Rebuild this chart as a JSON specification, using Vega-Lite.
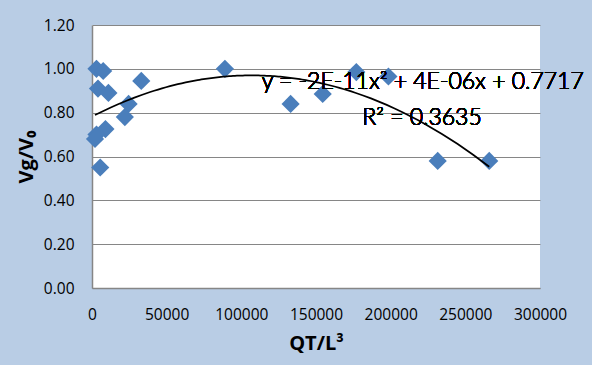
{
  "$schema": "https://vega.github.io/schema/vega-lite/v6.json",
  "width": 448,
  "height": 263,
  "autosize": "none",
  "padding": {"left": 92, "top": 25, "right": 52, "bottom": 77},
  "background": "#B9CDE5",
  "config": {
    "view": {"fill": "white", "stroke": null},
    "font": "Open Sans",
    "axis": {
      "labelFont": "Open Sans",
      "labelFontSize": 15.5,
      "labelColor": "#000000",
      "labelOverlap": false,
      "labelFlush": false,
      "titleFont": "Open Sans",
      "titleFontSize": 20,
      "titleFontWeight": "bold",
      "titleColor": "#000000",
      "ticks": false,
      "domainColor": "#868686",
      "domainWidth": 1.5,
      "gridColor": "#868686",
      "gridWidth": 1
    }
  },
  "data": {
    "values": [
      {"qt": 3000, "vg": 1.00},
      {"qt": 7500, "vg": 0.99},
      {"qt": 4000, "vg": 0.91},
      {"qt": 11000, "vg": 0.89},
      {"qt": 33000, "vg": 0.945},
      {"qt": 24500, "vg": 0.84},
      {"qt": 22000, "vg": 0.78},
      {"qt": 9000, "vg": 0.725},
      {"qt": 3000, "vg": 0.70},
      {"qt": 2000, "vg": 0.68},
      {"qt": 5500, "vg": 0.55},
      {"qt": 89000, "vg": 1.00},
      {"qt": 133000, "vg": 0.84},
      {"qt": 154500, "vg": 0.885},
      {"qt": 177000, "vg": 0.985},
      {"qt": 198500, "vg": 0.965},
      {"qt": 231500, "vg": 0.58},
      {"qt": 266000, "vg": 0.58}
    ]
  },
  "layer": [
    {
      "mark": {"type": "point", "shape": "diamond", "filled": true, "size": 330, "color": "#4A7EBB", "opacity": 1},
      "encoding": {
        "x": {
          "field": "qt", "type": "quantitative",
          "scale": {"domain": [0, 300000], "nice": false, "zero": false},
          "axis": {"values": [0, 50000, 100000, 150000, 200000, 250000, 300000], "format": "d", "grid": false, "labelPadding": 19, "titlePadding": 11},
          "title": "QT/L³"
        },
        "y": {
          "field": "vg", "type": "quantitative",
          "scale": {"domain": [0, 1.2], "nice": false, "zero": false},
          "axis": {"values": [0, 0.2, 0.4, 0.6, 0.8, 1.0, 1.2], "format": ".2f", "grid": true, "labelPadding": 18, "titlePadding": 7},
          "title": "Vg/V₀"
        }
      }
    },
    {
      "transform": [{"regression": "vg", "on": "qt", "method": "poly", "order": 2}],
      "mark": {"type": "line", "color": "#000000", "strokeWidth": 1.75, "clip": true},
      "encoding": {
        "x": {"field": "qt", "type": "quantitative"},
        "y": {"field": "vg", "type": "quantitative"}
      }
    },
    {
      "mark": {"type": "text", "font": "Lato", "fontSize": 23, "fontWeight": 300, "fill": "#000000", "align": "center", "baseline": "alphabetic", "clip": false},
      "encoding": {
        "x": {"datum": 221500},
        "y": {"datum": 0.906},
        "text": {"value": "y = -2E-11x² + 4E-06x + 0.7717"}
      }
    },
    {
      "mark": {"type": "text", "font": "Lato", "fontSize": 23, "fontWeight": 300, "fill": "#000000", "align": "center", "baseline": "alphabetic", "clip": false},
      "encoding": {
        "x": {"datum": 221000},
        "y": {"datum": 0.746},
        "text": {"value": "R² = 0.3635"}
      }
    }
  ]
}
